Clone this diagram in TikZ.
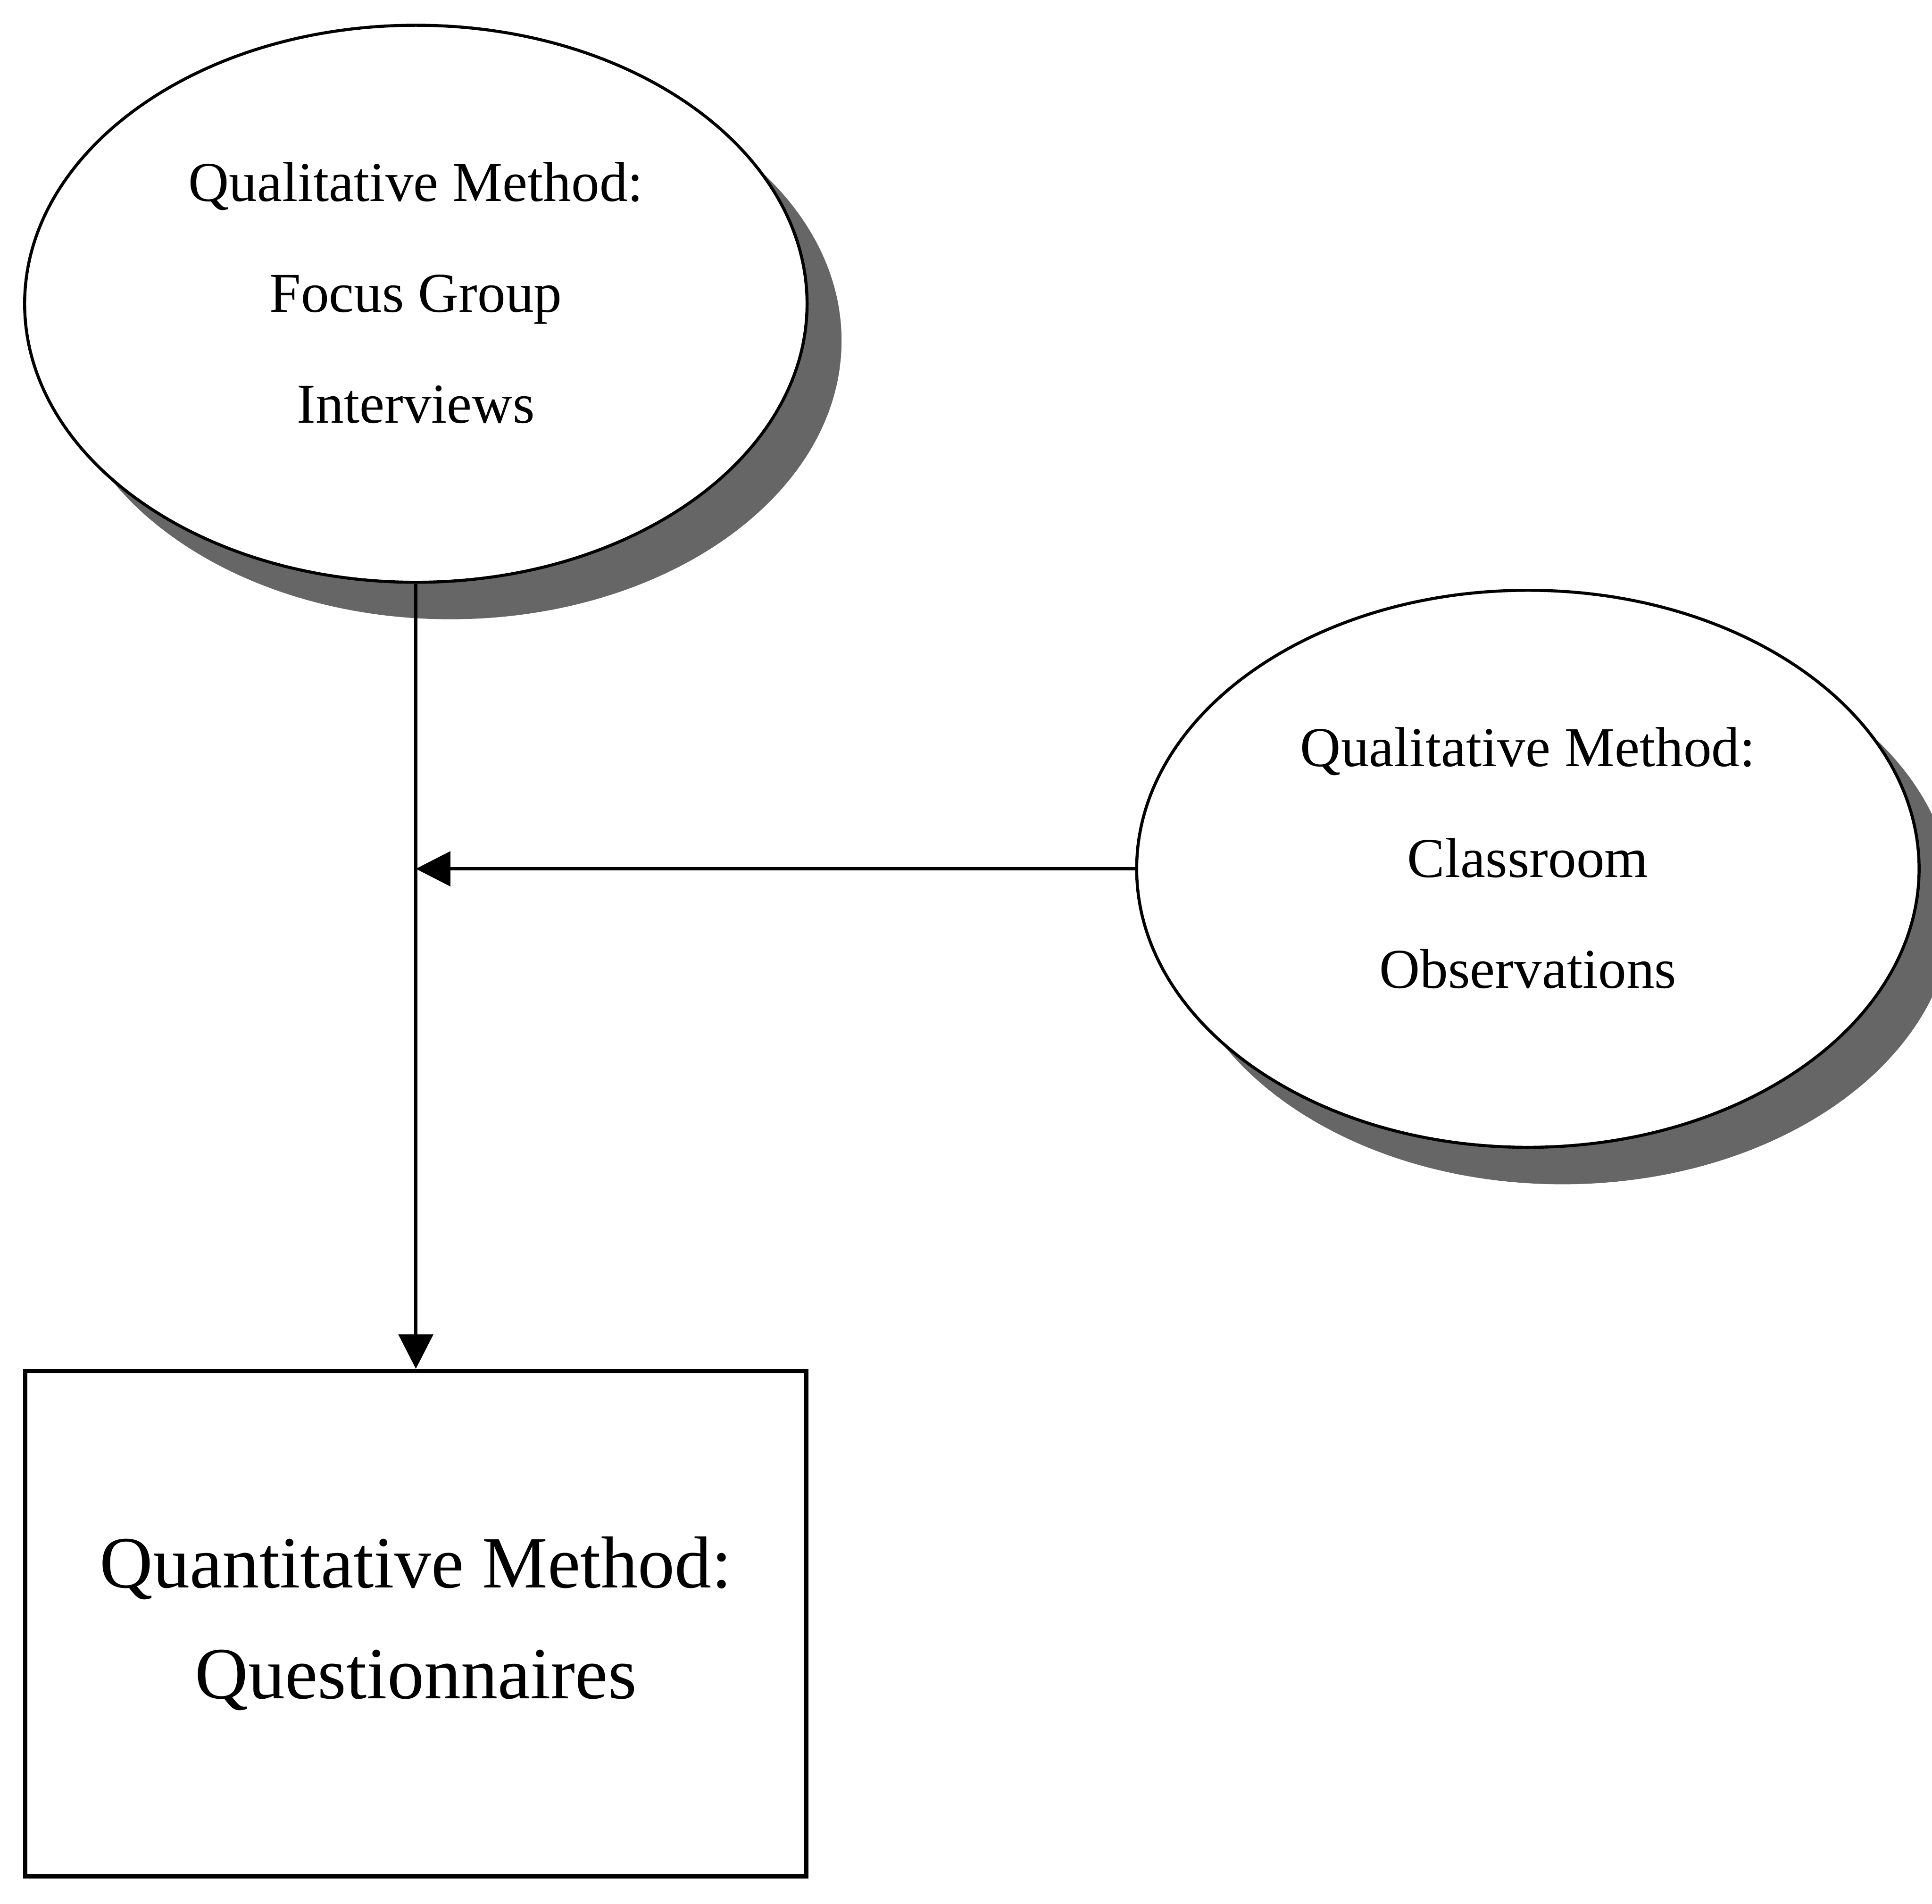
\documentclass[tikz,border=0pt]{standalone}
\usepackage{fontspec}
\setmainfont{Liberation Serif}
\usepackage{tikz}
\usetikzlibrary{positioning, arrows.meta, shapes.geometric, shadows}

\begin{document}
\begin{tikzpicture}[
    >=Triangle,
    qualmethod/.style={
        ellipse, draw=black, line width=0.7pt,
        fill=white,
        minimum width=63.5mm, minimum height=45.2mm,
        inner sep=0pt, align=center, text depth=1.8mm,
        font={\fontsize{13pt}{25.6pt}\selectfont},
        drop shadow={shadow xshift=2.8mm, shadow yshift=-3mm,
                     fill=black!60, opacity=1}
    },
    quantmethod/.style={
        rectangle, draw=black, line width=1pt,
        fill=white,
        minimum width=63.4mm, minimum height=41mm,
        inner sep=0pt, align=center,
        font={\fontsize{17pt}{25.6pt}\selectfont}
    },
    arrow/.style={-{Triangle[length=2.8mm, width=2.8mm]}, line width=0.7pt},
]

\useasboundingbox (0,0) rectangle (15.68,-15.45);

% ---------- Qualitative methods ----------
\node[qualmethod] (focus) at (3.375,-2.465) {Qualitative Method:\\Focus Group\\Interviews};
\node[qualmethod] (observe) at (12.40,-7.05) {Qualitative Method:\\Classroom\\Observations};

% ---------- Quantitative method ----------
\node[quantmethod, below=6.37cm of focus] (survey) {Quantitative Method:\\Questionnaires};

% ---------- Arrows ----------
\coordinate (join) at (focus.south |- observe.west);
\draw[arrow] (focus.south) -- (survey.north);
\draw[arrow] (observe.west) -- (join);

\end{tikzpicture}
\end{document}
